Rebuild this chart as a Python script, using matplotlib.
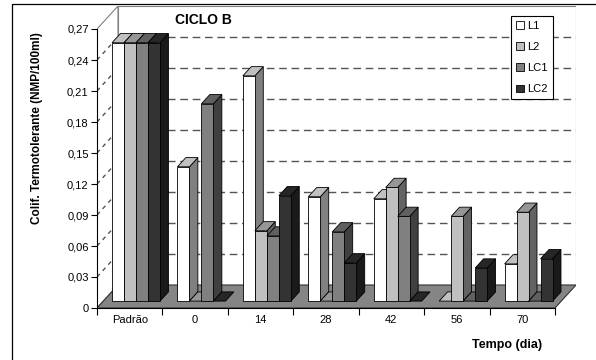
import numpy as np
import matplotlib
matplotlib.use('Agg')
import matplotlib.pyplot as plt
from matplotlib.patches import Polygon, Patch
from matplotlib.lines import Line2D

plt.rcParams['font.family'] = ['Liberation Sans', 'DejaVu Sans']
plt.rcParams['lines.scale_dashes'] = False

# ---------------- data ----------------
categories = ['Padrão', '0', '14', '28', '42', '56', '70']
series_names = ['L1', 'L2', 'LC1', 'LC2']
L1 = [0.250, 0.130, 0.218, 0.101, 0.099, 0.000, 0.036]
L2 = [0.250, 0.000, 0.068, 0.000, 0.110, 0.082, 0.086]
LC1 = [0.250, 0.191, 0.063, 0.067, 0.082, 0.000, 0.000]
LC2 = [0.250, 0.000, 0.102, 0.037, 0.000, 0.032, 0.041]
yticks = [0, 0.03, 0.06, 0.09, 0.12, 0.15, 0.18, 0.21, 0.24, 0.27]
ytick_labels = ['0', '0,03', '0,06', '0,09', '0,12', '0,15', '0,18', '0,21', '0,24', '0,27']
title = 'CICLO B'
ylabel = 'Colif. Termotolerante (NMP/100ml)'
xlabel = 'Tempo (dia)'

series = [L1, L2, LC1, LC2]
front_cols = ['#ffffff', '#c0c0c0', '#808080', '#333333']
top_cols = ['#c0c0c0', '#969696', '#606060', '#262626']
side_cols = ['#808080', '#636363', '#404040', '#1a1a1a']

# ---------------- figure geometry ----------------
FW, FH = 596, 360
fig = plt.figure(figsize=(FW / 100, FH / 100), dpi=100)

x_front_left, x_front_right = 97, 555
y_front_zero, y_front_top = 308, 29
depth_px_x, depth_px_y = 21, 23
ncat = len(categories)
ymax = yticks[-1]
px_per_cat = (x_front_right - x_front_left) / ncat
px_per_val = (y_front_zero - y_front_top) / ymax
DX = depth_px_x / px_per_cat
DY = depth_px_y / px_per_val

ax_left = x_front_left / FW
ax_w = (x_front_right + depth_px_x - x_front_left) / FW
ax_bottom = (FH - y_front_zero) / FH
ax_h = (y_front_zero - (y_front_top - depth_px_y)) / FH
ax = fig.add_axes([ax_left, ax_bottom, ax_w, ax_h])
ax.set_xlim(0, ncat + DX)
ax.set_ylim(0, ymax + DY)
ax.patch.set_visible(False)

# walls and floor
wall_col = '#808080'
ax.add_patch(Polygon([(DX, DY), (ncat + DX, DY), (ncat + DX, ymax + DY), (DX, ymax + DY)],
                     closed=True, facecolor='white', edgecolor=wall_col, lw=0.8, zorder=0.5))
ax.add_patch(Polygon([(0, 0), (DX, DY), (DX, ymax + DY), (0, ymax)],
                     closed=True, facecolor='white', edgecolor=wall_col, lw=0.8, zorder=0.5))
ax.add_patch(Polygon([(0, 0), (ncat, 0), (ncat + DX, DY), (DX, DY)],
                     closed=True, facecolor='#858585', edgecolor='#333333', lw=0.8, zorder=0.8))

# gridlines (back wall + side wall)
for v in yticks[1:-1]:
    ax.add_line(Line2D([DX, ncat + DX], [DY + v, DY + v], color='#555555', lw=1.0,
                       dashes=(5.5, 3.4), zorder=0.7))
    ax.add_line(Line2D([0, DX], [v, DY + v], color='#555555', lw=1.0,
                       dashes=(3.0, 3.0), zorder=0.7))

# bars
nser = len(series)
W = 12 / px_per_cat
F0 = 0.3
BD = 0.4
margin = (1 - nser * W) / 2
ddx, ddy = BD * DX, BD * DY
z = 3.0
for i in range(ncat):
    for j in range(nser):
        h = series[j][i]
        x0 = i + margin + j * W + F0 * DX
        y0 = F0 * DY
        top = [(x0, y0 + h), (x0 + W, y0 + h), (x0 + W + ddx, y0 + h + ddy), (x0 + ddx, y0 + h + ddy)]
        if h > 0:
            side = [(x0 + W, y0), (x0 + W + ddx, y0 + ddy), (x0 + W + ddx, y0 + h + ddy), (x0 + W, y0 + h)]
            front = [(x0, y0), (x0 + W, y0), (x0 + W, y0 + h), (x0, y0 + h)]
            ax.add_patch(Polygon(side, closed=True, facecolor=side_cols[j], edgecolor='black', lw=0.6, zorder=z))
            ax.add_patch(Polygon(top, closed=True, facecolor=top_cols[j], edgecolor='black', lw=0.6, zorder=z + 0.001))
            ax.add_patch(Polygon(front, closed=True, facecolor=front_cols[j], edgecolor='black', lw=0.6, zorder=z + 0.002))
        else:
            ax.add_patch(Polygon(top, closed=True, facecolor=top_cols[j], edgecolor='black', lw=0.6, zorder=z))
        z += 0.01

# axes
for s in ['top', 'right']:
    ax.spines[s].set_visible(False)
ax.spines['left'].set_bounds(0, ymax)
ax.spines['bottom'].set_bounds(0, ncat)
ax.spines['left'].set_linewidth(0.8)
ax.spines['bottom'].set_linewidth(0.8)
ax.set_yticks(yticks)
ax.set_yticklabels(ytick_labels, fontsize=8)
ax.tick_params(axis='y', direction='out', length=4, width=0.8, pad=2)
ax.set_xticks(np.arange(ncat + 1))
ax.set_xticklabels([''] * (ncat + 1))
ax.set_xticks(np.arange(ncat) + 0.5, minor=True)
ax.set_xticklabels(categories, minor=True, fontsize=8)
ax.tick_params(axis='x', which='major', direction='out', length=5, width=0.8)
ax.tick_params(axis='x', which='minor', length=0, pad=5)

# legend
handles = [Patch(facecolor=c, edgecolor='black', lw=0.6) for c in front_cols]
leg = fig.legend(handles, series_names, loc='upper left',
                 bbox_to_anchor=(511 / FW, 1 - 16 / FH), fontsize=8,
                 frameon=True, fancybox=False, edgecolor='black', framealpha=1,
                 handlelength=0.7, handleheight=0.7, handletextpad=0.3,
                 labelspacing=1.0, borderpad=0.45, borderaxespad=0)
leg.get_frame().set_linewidth(0.8)
leg.set_zorder(10)

# texts
fig.text(203 / FW, 1 - 20 / FH, title, fontsize=10, fontweight='bold', ha='center', va='center')
fig.text(37 / FW, 1 - 128 / FH, ylabel, fontsize=8.5, fontweight='bold', rotation=90,
         ha='center', va='center')
fig.text(507 / FW, 1 - 345 / FH, xlabel, fontsize=9, fontweight='bold', ha='center', va='center')

# outer frame (partially outside the image)
fig.add_artist(Line2D([12 / FW, 12 / FW, 1.0], [0.0, 1 - 4 / FH, 1 - 4 / FH],
                      transform=fig.transFigure, color='black', lw=0.9))

fig.savefig('out.png', dpi=100)
